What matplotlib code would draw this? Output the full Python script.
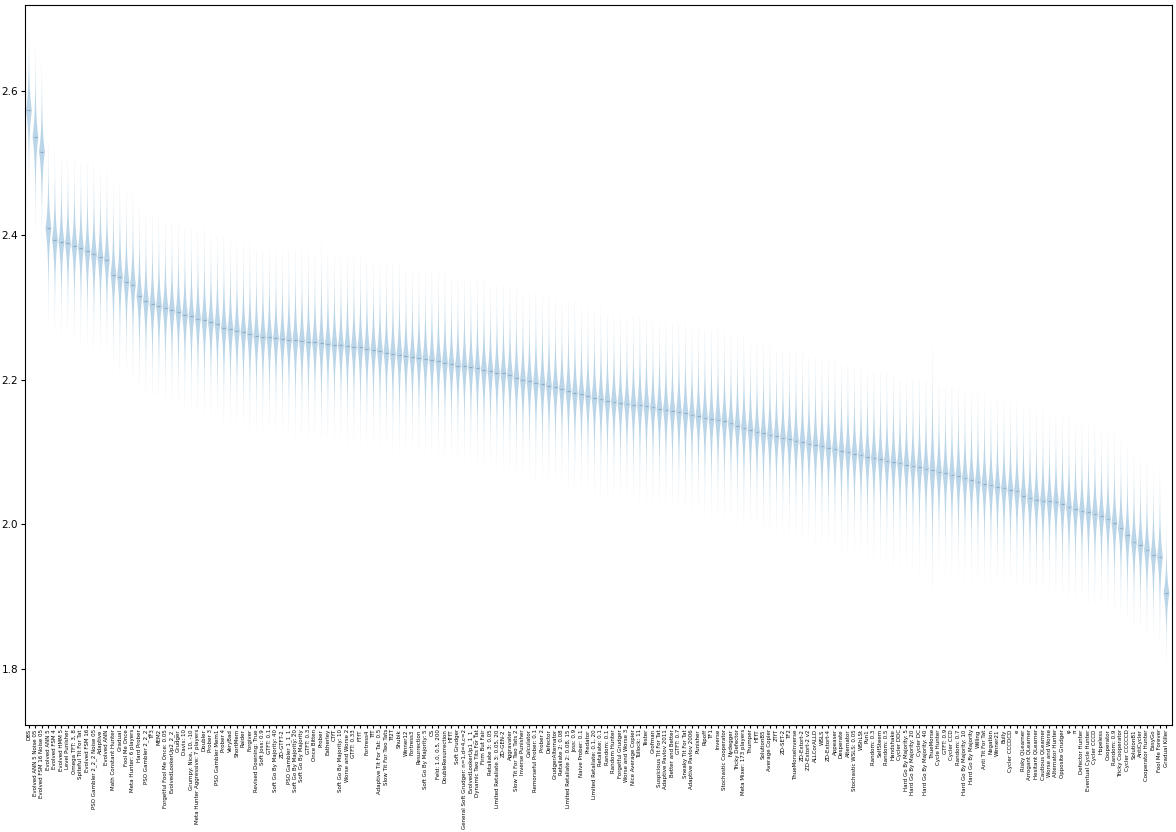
import matplotlib
matplotlib.use('Agg')
import matplotlib.pyplot as plt
import numpy as np

# === Dados ===
nomes = [
    'DBS', 'Evolved ANN 5 Noise 05', 'Evolved FSM 16 Noise 05', 'Evolved ANN 5', 'Evolved FSM 4',
    'Evolved HMM 5', 'Level Punisher', 'Omega TFT: 3, 8', 'Spiteful Tit For Tat', 'Evolved FSM 16',
    'PSO Gambler 2_2_2 Noise 05', 'Adaptive', 'Evolved ANN', 'Math Constant Hunter', 'Gradual',
    'Fool Me Once', 'Meta Hunter: 6 players', 'Hard Prober', 'PSO Gambler 2_2_2', 'TF3',
    'MEM2', 'Forgetful Fool Me Once: 0.05', 'EvolvedLookerUp2_2_2', 'Grudger', 'Davis: 10',
    'Grumpy: Nice, 10, -10', 'Meta Hunter Aggressive: 7 players', 'Doubler', 'Prober 3', 'PSO Gambler Mem1',
    'Prober 4', 'VeryBad', 'ShortMem', 'Raider', 'Forgiver',
    'Revised Downing: True', 'Soft Joss: 0.9', 'GTFT: 0.1', 'Soft Go By Majority: 40', 'ZD-GTFT-2',
    'PSO Gambler 1_1_1', 'Soft Go By Majority: 20', 'Soft Go By Majority', 'GTFT: 0.3', 'Once Bitten',
    'Prober', 'Eatherley', 'CTfT', 'Soft Go By Majority: 10', 'Worse and Worse 2',
    'GTFT: 0.33', 'FTfT', 'Fortress4', 'TfT', 'Adaptive Tit For Tat: 0.5',
    'Slow Tit For Two Tats', 'Tf2T', 'Shubik', 'Winner12', 'Fortress3',
    'Resurrection', 'Soft Go By Majority: 5', 'CS', 'Feld: 1.0, 0.5, 200', 'DoubleResurrection',
    'HTfT', 'Soft Grudger', 'General Soft Grudger: n=1,d=4,c=2', 'EvolvedLookerUp1_1_1', 'Dynamic Two Tits For Tat',
    'Firm But Fair', 'Retaliate 3: 0.05', 'Limited Retaliate 3: 0.05, 20', 'ZD-GEN-2', 'Aggravater',
    'Slow Tit For Two Tats 2', 'Inverse Punisher', 'Calculator', 'Remorseful Prober: 0.1', 'Prober 2',
    'Defector', 'GrudgerAlternator', 'Retaliate 2: 0.08', 'Limited Retaliate 2: 0.08, 15', 'Joss: 0.9',
    'Naive Prober: 0.1', 'Predator', 'Limited Retaliate: 0.1, 20', 'Retaliate: 0.1', 'Random: 0.1',
    'Random Hunter', 'Forgetful Grudger', 'Worse and Worse 3', 'Nice Average Copier', 'Tullock: 11',
    'Tester', 'Grofman', 'Suspicious Tit For Tat', 'Adaptive Pavlov 2011', 'Better and Better',
    'GTFT: 0.7', 'Sneaky Tit For Tat', 'Adaptive Pavlov 2006', 'Punisher', 'Ripoff',
    'TF1', 'Inverse', 'Stochastic Cooperator', 'Nydegger', 'Tricky Defector',
    'Meta Mixer: 173 players', 'Thumper', 'HTfT', 'SolutionB5', 'Average Copier',
    '2TfT', 'ZD-SET-2', 'TF2', 'ThueMorseInverse', 'ZD-Extort-2',
    'ZD-Extort-2 v2', 'ALLCorALLD', 'WSLS', 'ZD-Extort-4', 'Appeaser',
    'Desperate', 'Alternator', 'Stochastic WSLS: 0.05', 'WShLSt', 'Pun1',
    'Random: 0.3', 'SelfSteem', 'Random: 0.5', 'Handshake', 'Cycler DDC',
    'Hard Go By Majority: 5', 'Hard Go By Majority: 20', 'Cycler DC', 'Hard Go By Majority: 40', 'ThueMorse',
    'Cycle Hunter', 'GTFT: 0.9', 'Cycler CCD', 'Random: 0.7', 'Hard Go By Majority: 10',
    'Hard Go By Majority', 'Willing', 'Anti Tit For Tat', 'Negation', 'Winner21',
    'Bully', 'Cycler CCCDCD', 'e', 'Risky QLearner', 'Arrogant QLearner',
    'Hesitant QLearner', 'Cautious QLearner', 'Worse and Worse', 'Alternator Hunter', 'Opposite Grudger',
    'φ', 'π', 'Defector Hunter', 'Eventual Cycle Hunter', 'Cycler CCCD',
    'Hopeless', 'Cooperator', 'Random: 0.9', 'Tricky Cooperator', 'Cycler CCCCCD',
    'SolutionB1', 'AntiCycler', 'Cooperator Hunter', 'EasyGo', 'Fool Me Forever',
    'Gradual Killer',
]

medianas = [
    2.573, 2.536, 2.516, 2.410, 2.394, 2.391, 2.389, 2.386, 2.383, 2.378,
    2.374, 2.370, 2.366, 2.346, 2.343, 2.336, 2.332, 2.316, 2.309, 2.305,
    2.303, 2.300, 2.297, 2.294, 2.290, 2.288, 2.285, 2.283, 2.280, 2.278,
    2.272, 2.270, 2.268, 2.266, 2.263, 2.261, 2.260, 2.259, 2.258, 2.257,
    2.256, 2.255, 2.254, 2.253, 2.252, 2.251, 2.250, 2.249, 2.248, 2.247,
    2.246, 2.245, 2.243, 2.242, 2.240, 2.238, 2.236, 2.235, 2.233, 2.232,
    2.231, 2.229, 2.228, 2.226, 2.224, 2.222, 2.220, 2.219, 2.218, 2.216,
    2.214, 2.212, 2.210, 2.209, 2.207, 2.203, 2.200, 2.198, 2.196, 2.194,
    2.192, 2.190, 2.188, 2.185, 2.182, 2.180, 2.178, 2.175, 2.173, 2.171,
    2.170, 2.168, 2.167, 2.166, 2.165, 2.164, 2.162, 2.160, 2.159, 2.157,
    2.156, 2.154, 2.152, 2.150, 2.148, 2.146, 2.145, 2.143, 2.140, 2.137,
    2.134, 2.131, 2.128, 2.126, 2.124, 2.122, 2.120, 2.118, 2.116, 2.114,
    2.112, 2.110, 2.108, 2.106, 2.104, 2.102, 2.100, 2.098, 2.096, 2.094,
    2.092, 2.090, 2.088, 2.086, 2.085, 2.083, 2.081, 2.079, 2.077, 2.075,
    2.073, 2.071, 2.069, 2.067, 2.064, 2.061, 2.059, 2.056, 2.054, 2.052,
    2.050, 2.048, 2.046, 2.040, 2.036, 2.034, 2.033, 2.032, 2.031, 2.028,
    2.024, 2.021, 2.019, 2.017, 2.015, 2.012, 2.008, 2.002, 1.995, 1.985,
    1.976, 1.972, 1.965, 1.958, 1.955, 1.905,
]

# extremos (min / max) de cada distribuição
minimos = [
    2.44, 2.40, 2.39, 2.28, 2.27, 2.26, 2.27, 2.26, 2.25, 2.25,
    2.24, 2.24, 2.24, 2.22, 2.21, 2.21, 2.20, 2.19, 2.18, 2.18,
    2.18, 2.17, 2.17, 2.17, 2.16, 2.16, 2.16, 2.15, 2.15, 2.15,
    2.14, 2.14, 2.14, 2.14, 2.13, 2.13, 2.13, 2.13, 2.13, 2.13,
    2.13, 2.12, 2.12, 2.12, 2.12, 2.12, 2.12, 2.12, 2.12, 2.11,
    2.11, 2.11, 2.11, 2.11, 2.11, 2.11, 2.10, 2.10, 2.10, 2.10,
    2.10, 2.10, 2.10, 2.09, 2.09, 2.09, 2.09, 2.09, 2.09, 2.08,
    2.08, 2.08, 2.08, 2.08, 2.07, 2.07, 2.07, 2.07, 2.06, 2.06,
    2.06, 2.06, 2.06, 2.05, 2.05, 2.05, 2.05, 2.04, 2.04, 2.04,
    2.04, 2.04, 2.04, 2.04, 2.03, 2.03, 2.03, 2.03, 2.03, 2.03,
    2.02, 2.02, 2.02, 2.02, 2.01, 2.01, 2.01, 2.01, 2.01, 2.00,
    2.00, 2.00, 2.00, 1.99, 1.99, 1.99, 1.99, 1.98, 1.98, 1.98,
    1.98, 1.97, 1.97, 1.97, 1.97, 1.96, 1.96, 1.96, 1.96, 1.95,
    1.95, 1.95, 1.95, 1.94, 1.94, 1.94, 1.94, 1.93, 1.93, 1.91,
    1.93, 1.93, 1.93, 1.92, 1.92, 1.92, 1.92, 1.92, 1.92, 1.92,
    1.92, 1.92, 1.92, 1.92, 1.91, 1.91, 1.91, 1.91, 1.91, 1.90,
    1.90, 1.90, 1.90, 1.89, 1.89, 1.89, 1.89, 1.88, 1.88, 1.87,
    1.86, 1.86, 1.85, 1.85, 1.84, 1.81,
]

maximos = [
    2.68, 2.66, 2.64, 2.53, 2.52, 2.51, 2.51, 2.51, 2.50, 2.50,
    2.50, 2.49, 2.49, 2.47, 2.47, 2.46, 2.46, 2.44, 2.43, 2.43,
    2.43, 2.42, 2.42, 2.42, 2.41, 2.41, 2.41, 2.41, 2.40, 2.40,
    2.40, 2.39, 2.39, 2.39, 2.39, 2.38, 2.38, 2.38, 2.38, 2.38,
    2.38, 2.38, 2.38, 2.38, 2.37, 2.40, 2.37, 2.37, 2.37, 2.37,
    2.37, 2.37, 2.36, 2.36, 2.36, 2.36, 2.36, 2.36, 2.35, 2.35,
    2.35, 2.35, 2.35, 2.35, 2.35, 2.34, 2.34, 2.34, 2.34, 2.34,
    2.34, 2.33, 2.33, 2.33, 2.33, 2.33, 2.32, 2.32, 2.32, 2.32,
    2.32, 2.31, 2.31, 2.31, 2.31, 2.30, 2.30, 2.30, 2.30, 2.29,
    2.29, 2.29, 2.29, 2.29, 2.29, 2.29, 2.28, 2.28, 2.28, 2.28,
    2.28, 2.28, 2.27, 2.27, 2.27, 2.27, 2.27, 2.27, 2.26, 2.26,
    2.26, 2.25, 2.25, 2.25, 2.25, 2.24, 2.24, 2.24, 2.24, 2.24,
    2.23, 2.23, 2.23, 2.23, 2.23, 2.22, 2.22, 2.22, 2.22, 2.21,
    2.21, 2.21, 2.21, 2.21, 2.20, 2.20, 2.20, 2.20, 2.20, 2.25,
    2.19, 2.19, 2.19, 2.19, 2.18, 2.18, 2.18, 2.18, 2.17, 2.17,
    2.17, 2.17, 2.17, 2.16, 2.16, 2.16, 2.16, 2.15, 2.15, 2.15,
    2.15, 2.14, 2.14, 2.14, 2.14, 2.13, 2.13, 2.13, 2.12, 2.11,
    2.10, 2.10, 2.09, 2.08, 2.08, 2.00,
]

# === Estatísticas para o violin ===
estatisticas = []
for med, lo, hi in zip(medianas, minimos, maximos):
    coords = np.linspace(lo, hi, 200)
    escala = (hi - lo) / 9.0
    vals = np.exp(-np.abs(coords - med) / escala)
    estatisticas.append({'coords': coords, 'vals': vals, 'mean': med, 'median': med,
                         'min': lo, 'max': hi, 'quantiles': []})

posicoes = np.arange(1, len(nomes) + 1)

fig = plt.figure(figsize=(11.76, 8.32), dpi=100)
ax = fig.add_axes([0.0213, 0.1286, 0.9753, 0.8654])

partes = ax.violin(estatisticas, positions=posicoes, widths=0.9, showmeans=False,
                   showextrema=False, showmedians=True)
partes['cmedians'].set_color('#8fa9c0')
partes['cmedians'].set_linewidth(0.9)

ax.set_xticks(posicoes)
ax.set_xticklabels(nomes, rotation=90, fontsize=4)
ax.tick_params(axis='y', labelsize=7.5, length=3, pad=2)
ax.tick_params(axis='x', length=2, pad=1)
ax.set_yticks([1.8, 2.0, 2.2, 2.4, 2.6])
ax.set_xlim(0.4, len(nomes) + 0.85)
ax.set_ylim(1.7225, 2.719)

plt.savefig('out.png', dpi=100)
